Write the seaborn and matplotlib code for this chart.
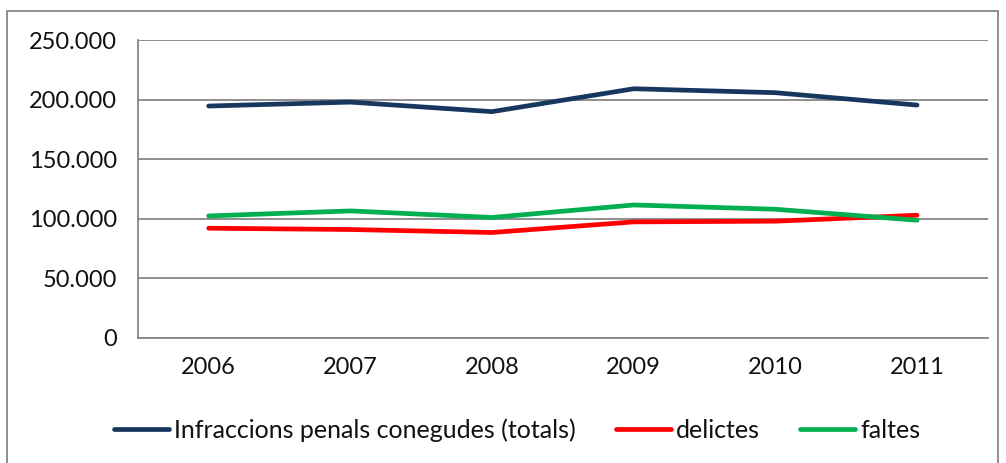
import pandas as pd
import seaborn as sns
import matplotlib.pyplot as plt
from matplotlib.patches import Rectangle
from matplotlib.ticker import FuncFormatter, FixedLocator

# Data
years = ['2006', '2007', '2008', '2009', '2010', '2011']
totals = [194600, 197900, 189900, 209100, 205800, 195400]
delictes = [92100, 91000, 88500, 97400, 98000, 103000]
faltes = [102400, 106600, 101100, 111600, 108000, 98800]
series_names = ['Infraccions penals conegudes (totals)', 'delictes', 'faltes']
colors = ['#17375E', '#FF0000', '#00B050']

df = pd.DataFrame({'any': years, series_names[0]: totals,
                   series_names[1]: delictes, series_names[2]: faltes})
dflong = pd.melt(df, id_vars='any', var_name='serie', value_name='valor')

sns.set_style('white')
plt.rcParams['font.family'] = ['Lato', 'DejaVu Sans']

fig = plt.figure(figsize=(10.06, 4.63), dpi=100)
ax = fig.add_axes([0.137, 0.27, 0.845, 0.6436])

sns.lineplot(data=dflong, x='any', y='valor', hue='serie', palette=colors,
             linewidth=3.4, ax=ax, sort=False, legend=True)
for line in ax.get_lines():
    line.set_solid_capstyle('round')
    line.set_solid_joinstyle('round')

ax.set_xlim(-0.5, 5.5)
ax.set_ylim(0, 250000)
ax.set_yticks(range(0, 250001, 50000))
ax.yaxis.set_major_formatter(FuncFormatter(lambda v, p: f'{int(v):,}'.replace(',', '.')))
ax.xaxis.set_minor_locator(FixedLocator([i - 0.5 for i in range(7)]))
ax.tick_params(axis='x', which='major', length=0, pad=14, labelsize=17, labelcolor='#111111')
ax.tick_params(axis='x', which='minor', length=8, color='#868686', width=1.3, direction='out')
ax.tick_params(axis='y', length=8, color='#868686', width=1.3, direction='out', pad=7,
               labelsize=17, labelcolor='#111111')
ax.grid(axis='y', color='#868686', linewidth=1.3)
ax.set_axisbelow(True)
for s in ['top', 'right']:
    ax.spines[s].set_visible(False)
for s in ['left', 'bottom']:
    ax.spines[s].set_color('#868686')
    ax.spines[s].set_linewidth(1.3)
ax.set_xlabel('')
ax.set_ylabel('')

handles, labels = ax.get_legend_handles_labels()
ax.legend_.remove()
leg = fig.legend(handles, labels, loc='center', bbox_to_anchor=(0.514, 0.071), ncol=3,
                 frameon=False, fontsize=18, handlelength=2.2, handletextpad=0.2,
                 columnspacing=1.6)
for t in leg.get_texts():
    t.set_color('#111111')

fig.patches.append(Rectangle((0.007, -0.01), 0.985, 0.986, transform=fig.transFigure,
                             fill=False, edgecolor='#868686', linewidth=1.3))

fig.savefig('out.png', dpi=100)
